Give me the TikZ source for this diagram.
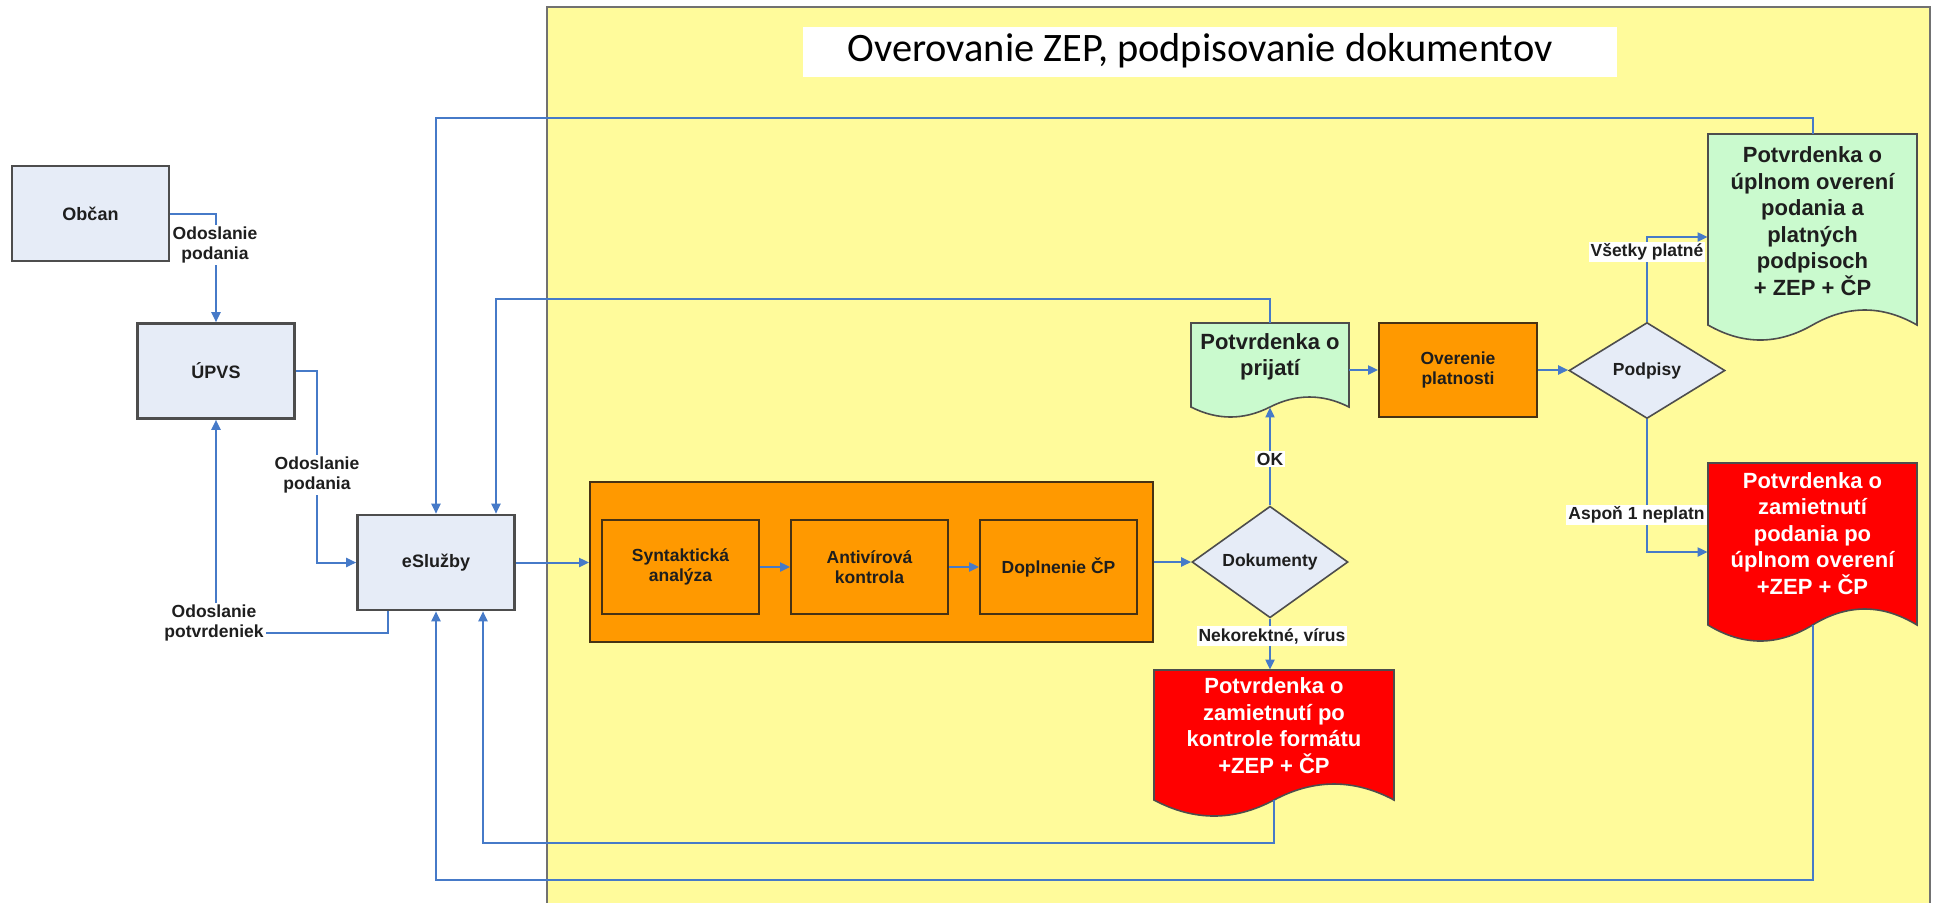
\documentclass[tikz,border=0pt]{standalone}
\usepackage{fontspec}
\setmainfont{Liberation Sans}
\newfontfamily\titlefont{Carlito}
\usetikzlibrary{arrows.meta,shapes.geometric,calc}

\definecolor{ylw}{RGB}{255,251,155}
\definecolor{boxfill}{RGB}{230,236,247}
\definecolor{boxline}{RGB}{77,77,77}
\definecolor{orng}{RGB}{255,153,0}
\definecolor{orngline}{RGB}{70,50,20}
\definecolor{grn}{RGB}{202,250,206}
\definecolor{rd}{RGB}{255,0,0}
\definecolor{conncol}{RGB}{70,122,200}
\definecolor{txt}{RGB}{30,30,30}

\tikzset{
 sysbox/.style={draw=boxline, line width=1.3pt, fill=boxfill, minimum width=78.5pt, minimum height=47.5pt, font=\bfseries\fontsize{9}{11}\selectfont, text=txt},
 procbox/.style={draw=orngline, line width=0.9pt, fill=orng, minimum width=78.5pt, minimum height=47pt, align=center, font=\bfseries\fontsize{8.75}{10.25}\selectfont, text=txt},
 decision/.style={diamond, draw=boxline, line width=0.8pt, fill=boxfill, minimum width=78pt, minimum height=48pt, inner sep=0pt, font=\bfseries\fontsize{8.75}{10.25}\selectfont, text=txt},
 doctext/.style={align=center, inner sep=0pt, font=\bfseries\fontsize{11}{13.25}\selectfont},
 docframe/.style={draw=boxline, line width=0.8pt},
 conn/.style={draw=conncol, line width=1pt, -{Triangle[length=5pt,width=4.5pt]}},
 lbl/.style={fill=white, inner sep=1pt, align=center, font=\bfseries\fontsize{8.75}{10.25}\selectfont, text=txt},
}

\newcommand{\docbg}[6]{%
  \pgfmathsetmacro{\dW}{#2-#1}%
  \pgfmathsetmacro{\dM}{(#1+#2)/2}%
  \pgfmathsetmacro{\cRa}{#2-\dW/6}%
  \pgfmathsetmacro{\cRb}{#2-\dW/3}%
  \pgfmathsetmacro{\cLa}{\dM-\dW/6}%
  \pgfmathsetmacro{\cLb}{\dM-\dW/3}%
  \pgfmathsetmacro{\yUp}{#4-4*#5/3}%
  \pgfmathsetmacro{\yDn}{#4+4*#5/3}%
  \filldraw[docframe, fill=#6] (#1,#3) -- (#2,#3) -- (#2,#4)
     .. controls (\cRa,\yUp) and (\cRb,\yUp) .. (\dM,#4)
     .. controls (\cLa,\yDn) and (\cLb,\yDn) .. (#1,#4) -- cycle;
}

\begin{document}
\begin{tikzpicture}[x=0.5pt, y=-0.5pt]
\useasboundingbox (0,0) rectangle (1934,902);
\fill[white] (0,0) rectangle (1934,902);
% yellow area
\filldraw[draw=boxline!80, line width=1pt, fill=ylw] (547,7) rectangle (1930,915);
\fill[white] (803,27) rectangle (1617,77);
\node[font=\titlefont\fontsize{20.2}{23}\selectfont] (title) at (1200,51) {Overovanie ZEP, podpisovanie dokumentov};

% left systems
\node[sysbox] (obcan) at (90.5,213.5) {Občan};
\node[sysbox] (upvs) at (216,371) {ÚPVS};
\node[sysbox] (esl) at (436,562.5) {eSlužby};

% processing block
\node[draw=orngline, line width=0.9pt, fill=orng, minimum width=281.5pt, minimum height=80pt] (proc) at (871.5,562) {};
\node[procbox] (synt) at (680.5,567) {Syntaktická\\analýza};
\node[procbox] (anti) at (869.5,567) {Antivírová\\kontrola};
\node[procbox] (dopl) at (1058.5,567) {Doplnenie ČP};

\node[decision] (dok) at (1270,562) {Dokumenty};

% documents
\docbg{1191}{1349}{323}{407}{10}{grn}
\node[doctext, minimum width=79pt, minimum height=34pt, text=txt] (prij) at (1270,357) {Potvrdenka o\\prijatí};
\node[procbox, minimum width=79pt] (over) at (1458,370) {Overenie\\platnosti};
\node[decision] (pod) at (1647,370.5) {Podpisy};
\docbg{1708}{1917}{134}{325}{15}{grn}
\node[doctext, minimum width=104.5pt, minimum height=87pt, text=txt] (grn2) at (1812.5,221) {Potvrdenka o\\úplnom overení\\podania a\\platných\\podpisoch\\+ ZEP + ČP};
\docbg{1154}{1394}{670}{800}{16}{rd}
\node[doctext, minimum width=120pt, minimum height=55.5pt, text=white] (rej1) at (1274,725.5) {Potvrdenka o\\zamietnutí po\\kontrole formátu\\+ZEP + ČP};
\docbg{1708}{1917}{463}{625}{16}{rd}
\node[doctext, minimum width=104.5pt, minimum height=70.5pt, text=white] (rej2) at (1812.5,533.5) {Potvrdenka o\\zamietnutí\\podania po\\úplnom overení\\+ZEP + ČP};

% helper coordinates
\coordinate (yA) at (0,118);
\coordinate (yB) at (0,299);
\coordinate (yC) at (0,237);
\coordinate (yD) at (0,552);
\coordinate (yE) at (0,633);
\coordinate (yF) at (0,843);
\coordinate (yG) at (0,880);
\coordinate (xU) at (317,0);
\coordinate (eTop2) at ($(esl.north)+(60,0)$);
\coordinate (eBot1) at ($(esl.south west)+(32,0)$);
\coordinate (eBot2) at ($(esl.south)+(47,0)$);
\coordinate (prijB) at ($(prij.south)+(0,16)$);
\coordinate (rej1B) at ($(rej1.south)+(0,19)$);
\coordinate (rej2B) at ($(rej2.south)+(0,21)$);

% connectors
\draw[conn] (obcan.east) -| (upvs.north);
\draw[conn] (upvs.east) -| (xU |- esl.west) -- (esl.west);
\draw[conn] (eBot1) |- (upvs.south |- yE) -- (upvs.south);
\draw[conn] (esl.east) -- (esl.east -| proc.west);
\draw[conn] (synt.east) -- (anti.west);
\draw[conn] (anti.east) -- (dopl.west);
\draw[conn] (proc.east) -- (dok.west);
\draw[conn] (dok.north) -- (prijB);
\draw[conn] (prij.east |- over.west) -- (over.west);
\draw[conn] (over.east) -- (over.east -| pod.west);
\draw[conn] (pod.north) |- (grn2.west |- yC);
\draw[conn] (pod.south) |- (rej2.west |- yD);
\draw[conn] (dok.south) -- (dok.south |- rej1.north);
\draw[conn] (prij.north) |- (eTop2 |- yB) -- (eTop2);
\draw[conn] (grn2.north) |- (esl.north |- yA) -- (esl.north);
\draw[conn] (rej1B) |- (eBot2 |- yF) -- (eBot2);
\draw[conn] (rej2B) |- (esl.south |- yG) -- (esl.south);

% labels
\node[lbl] (l1) at (215,245) {Odoslanie\\podania};
\node[lbl] (l2) at (317,475) {Odoslanie\\podania};
\node[lbl] (l3) at (214,623) {Odoslanie\\potvrdeniek};
\node[lbl] (l4) at (1270,459) {OK};
\node[lbl] (l5) at (1272,636) {Nekorektné, vírus};
\node[lbl] (l6) at (1647,252) {Všetky platné};
\node[lbl, anchor=east] (l7) at (1707,515) {Aspoň 1 neplatn};
\end{tikzpicture}
\end{document}
